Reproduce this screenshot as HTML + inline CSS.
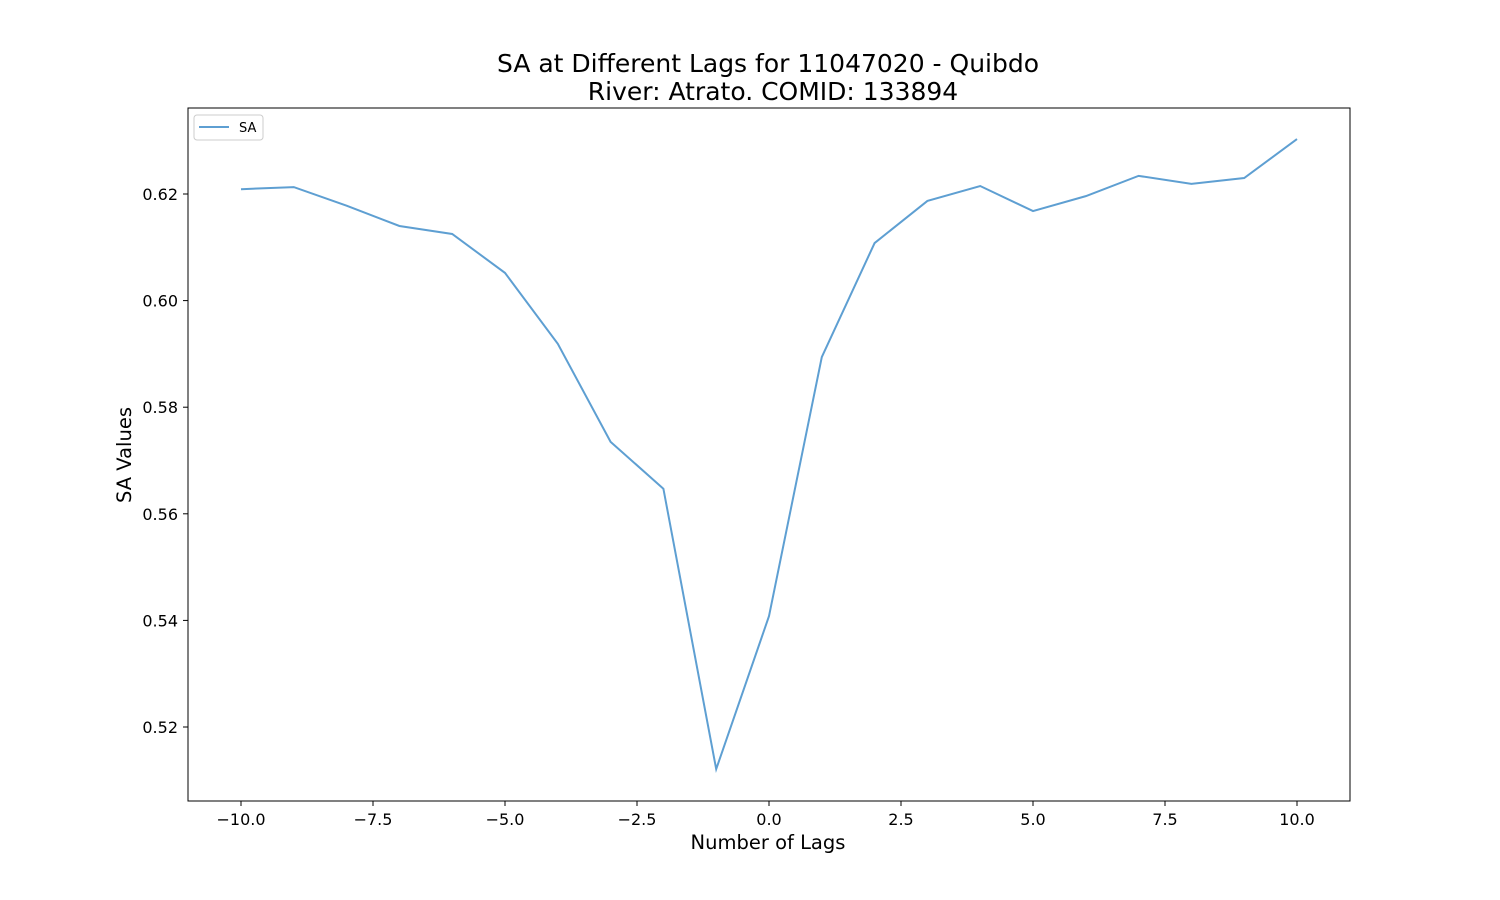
<!DOCTYPE html>
<html><head><meta charset="utf-8"><style>
body{margin:0;background:#fff;}
svg{display:block;font-family:"DejaVu Sans","Liberation Sans",sans-serif;}
</style></head><body>
<svg id="chart" width="1500" height="900">
<text x="768" y="72" font-size="25" text-anchor="middle">SA at Different Lags for 11047020 - Quibdo</text>
<text x="773" y="100" font-size="25" text-anchor="middle">River: Atrato. COMID: 133894</text>
<g id="ticks"></g>
<path id="line" fill="none" stroke="#5e9fd2" stroke-width="2"></path>
<rect x="188" y="108" width="1162" height="693" fill="none" stroke="#000" stroke-width="1"></rect>
<text x="768" y="849" font-size="19.5" text-anchor="middle">Number of Lags</text>
<text transform="translate(131,455) rotate(-90)" font-size="19.5" text-anchor="middle">SA Values</text>
<g>
<rect x="194" y="115" width="69" height="25" fill="#fff" stroke="#ccc" rx="3"></rect>
<line x1="199" y1="127" x2="229" y2="127" stroke="#5e9fd2" stroke-width="2"></line>
<text x="239" y="132" font-size="13">SA</text>
</g>
</svg>
<script>
const lags=[-10,-9,-8,-7,-6,-5,-4,-3,-2,-1,0,1,2,3,4,5,6,7,8,9,10];
const saValues=[0.6209,0.6213,0.6178,0.6140,0.6125,0.6052,0.5919,0.5735,0.5647,0.5121,0.5408,0.5894,0.6108,0.6187,0.6215,0.6168,0.6196,0.6234,0.6219,0.6230,0.6303];
const xTicks=[-10,-7.5,-5,-2.5,0,2.5,5,7.5,10];
const yTicks=[0.52,0.54,0.56,0.58,0.60,0.62];
const xs=v=>241+(v+10)*52.8;
const ys=v=>194-(v-0.62)*5330;
const ns="http://www.w3.org/2000/svg";
const g=document.getElementById('ticks');
function mk(t,a){const e=document.createElementNS(ns,t);for(const k in a)e.setAttribute(k,a[k]);g.appendChild(e);return e;}
xTicks.forEach(v=>{const x=xs(v);
const l=mk('line',{x1:x,x2:x,y1:801,y2:806,stroke:'#000'});


const t=mk('text',{x:x,y:825,'font-size':16,'text-anchor':'middle'});
t.textContent=v.toFixed(1).replace('-','\u2212');

});
yTicks.forEach(v=>{const y=ys(v);
const l=mk('line',{x1:183,x2:188,y1:y,y2:y,stroke:'#000'});


const t=mk('text',{x:178,y:y+6,'font-size':16,'text-anchor':'end'});
t.textContent=v.toFixed(2);

});
document.getElementById('line').setAttribute('d',lags.map((v,i)=>(i?'L':'M')+xs(v)+','+ys(saValues[i])).join(''));
</script>
</body></html>
